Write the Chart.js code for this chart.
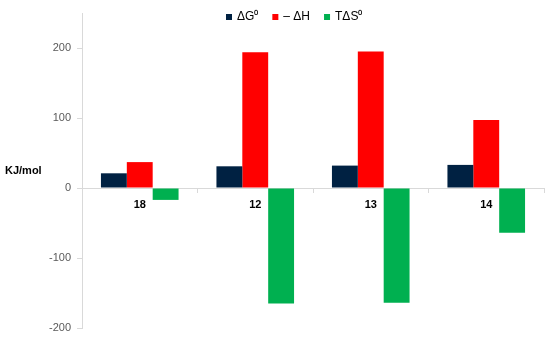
<!DOCTYPE html>
<html>
<head>
<meta charset="utf-8">
<script src="https://cdn.jsdelivr.net/npm/chart.js@4/dist/chart.umd.min.js"></script>
<style>
  html, body { margin: 0; padding: 0; background: #ffffff; }
  #wrap { width: 550px; height: 338px; position: relative; }
</style>
</head>
<body>
<div id="wrap"><canvas id="c" width="550" height="338"></canvas></div>
<script>
const categories = ['18', '12', '13', '14'];
const seriesLabels = ['ΔG⁰', '– ΔH', 'TΔS⁰'];
const deltaG = [21, 31, 32, 33];
const minusDeltaH = [37, 194, 195, 97];
const TdeltaS = [-17, -165, -164, -64];
const yTicks = [-200, -100, 0, 100, 200];
const yMin = -200;
const yMax = 250;
const yAxisTitle = 'KJ/mol';
const seriesColors = ['#002142', '#FF0000', '#00B050'];

const sideTitle = {
  id: 'sideTitle',
  afterDraw(chart) {
    const ctx = chart.ctx;
    ctx.save();
    ctx.font = 'bold 11px "Liberation Sans", Arial, sans-serif';
    ctx.fillStyle = '#000000';
    ctx.textAlign = 'left';
    ctx.textBaseline = 'middle';
    ctx.fillText(yAxisTitle, 5, 171);
    ctx.restore();
  }
};

const customLegend = {
  id: 'customLegend',
  afterDraw(chart) {
    const ctx = chart.ctx;
    ctx.save();
    ctx.font = '12px "Liberation Sans", Arial, sans-serif';
    ctx.textAlign = 'left';
    ctx.textBaseline = 'middle';
    let x = 226;
    const y = 17;
    chart.data.datasets.forEach((ds) => {
      ctx.fillStyle = ds.backgroundColor;
      ctx.fillRect(x, y - 3, 6, 6);
      x += 6 + 5;
      ctx.fillStyle = '#000000';
      ctx.fillText(ds.label, x, y);
      x += ctx.measureText(ds.label).width + 14;
    });
    ctx.restore();
  }
};

new Chart(document.getElementById('c'), {
  type: 'bar',
  data: {
    labels: categories,
    datasets: [
      { label: seriesLabels[0], data: deltaG, backgroundColor: seriesColors[0] },
      { label: seriesLabels[1], data: minusDeltaH, backgroundColor: seriesColors[1] },
      { label: seriesLabels[2], data: TdeltaS, backgroundColor: seriesColors[2] }
    ]
  },
  options: {
    responsive: false,
    animation: false,
    devicePixelRatio: 1,
    layout: { padding: { left: 0, right: 6, top: 13, bottom: 10 } },
    datasets: { bar: { barPercentage: 1.0, categoryPercentage: 0.672 } },
    plugins: {
      legend: { display: false },
      tooltip: { enabled: false },
      title: { display: false }
    },
    scales: {
      x: {
        position: { y: 0 },
        offset: true,
        afterFit(scale) { scale.paddingLeft = 0; scale.paddingRight = 0; },
        grid: {
          offset: true,
          drawOnChartArea: false,
          drawTicks: true,
          tickLength: 4,
          color: '#D9D9D9'
        },
        border: { display: true, color: '#D9D9D9', width: 1 },
        ticks: {
          color: '#000000',
          font: { family: '"Liberation Sans", Arial, sans-serif', size: 11, weight: 'bold' },
          padding: 6,
          maxRotation: 0
        }
      },
      y: {
        min: yMin,
        max: yMax,
        afterBuildTicks(scale) {
          scale.ticks = yTicks.map(v => ({ value: v }));
        },
        afterFit(scale) {
          scale.width = 82;
          scale.paddingTop = 0;
          scale.paddingBottom = 0;
        },
        grid: {
          drawOnChartArea: false,
          drawTicks: true,
          tickLength: 5,
          color: '#D9D9D9'
        },
        border: { display: true, color: '#D9D9D9', width: 1 },
        ticks: {
          color: '#595959',
          font: { family: '"Liberation Sans", Arial, sans-serif', size: 11 },
          padding: 6
        }
      }
    }
  },
  plugins: [sideTitle, customLegend]
});
</script>
</body>
</html>
